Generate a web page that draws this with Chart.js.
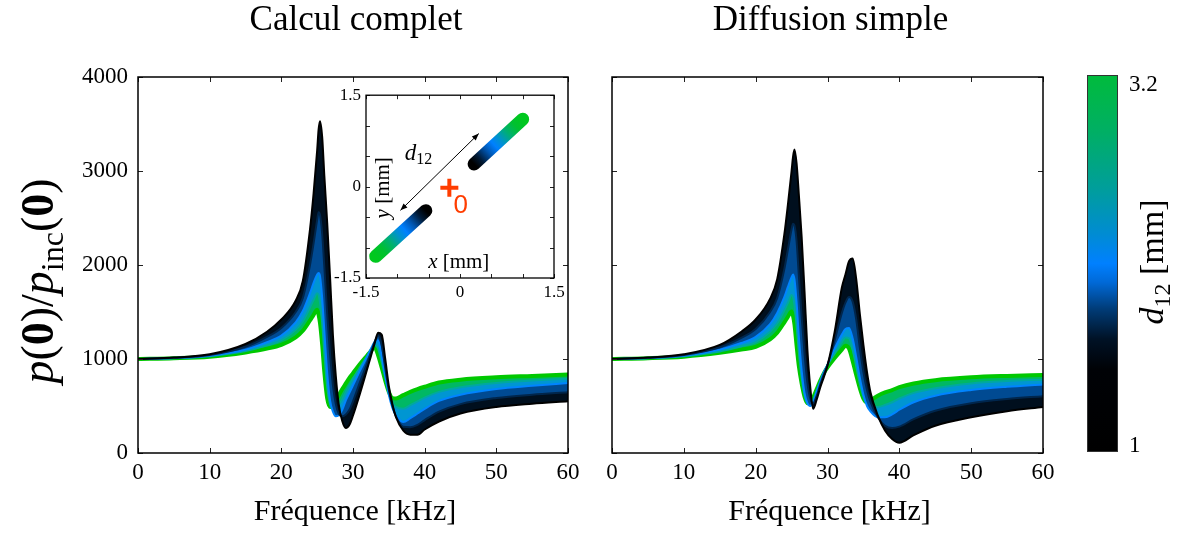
<!DOCTYPE html>
<html>
<head>
<meta charset="utf-8">
<script src="https://cdn.jsdelivr.net/npm/chart.js@4.4.1/dist/chart.umd.min.js"></script>
<style>
  html, body { margin: 0; padding: 0; background: #fff; }
  #wrap { position: relative; width: 1185px; height: 534px; overflow: hidden; background: #fff; }
  canvas { position: absolute; }
</style>
</head>
<body>
<div id="wrap">
  <canvas id="leftChart" width="590" height="534" style="left:0;top:0"></canvas>
  <canvas id="rightChart" width="475" height="534" style="left:590px;top:0"></canvas>
  <canvas id="barChart" width="120" height="534" style="left:1065px;top:0"></canvas>
  <canvas id="insetChart" width="240" height="225" style="left:330px;top:80px"></canvas>
</div>
<script>
/* ------------------- DATA ------------------- */
// frequency grid (kHz), shared by every curve
const freq = [0, 5, 10, 15, 18, 20, 22, 23, 24, 24.5, 25, 25.2, 25.4, 25.7, 26, 26.4, 26.8, 27.2, 27.6, 28,
              28.5, 29, 29.5, 30, 31, 32, 32.5, 33, 33.5, 34, 34.5, 35, 35.5, 36, 37, 38, 39, 40, 42, 45, 50, 55, 60];

// d12 values of the curves that are drawn (mm)
const d12Values = [1, 1.8, 2.1, 2.6, 3.2];

// "Calcul complet" : p(0)/pinc(0)
const completD10 = [1000, 1015, 1050, 1160, 1290, 1420, 1620, 1830, 2380, 2760, 3220, 3440, 3530, 3360, 2950, 2450, 1870, 1250, 820, 520,
                    340, 265, 300, 400, 640, 900, 1030, 1160, 1280, 1260, 1000, 710, 520, 380, 240, 195, 195, 250, 335, 420, 490, 525, 550];
const completD18 = [1000, 1012, 1043, 1130, 1235, 1330, 1500, 1650, 2000, 2230, 2480, 2560, 2530, 2330, 1980, 1480, 1050, 720, 520, 420,
                    390, 410, 460, 550, 760, 960, 1070, 1180, 1250, 1150, 900, 670, 500, 390, 280, 275, 300, 350, 440, 520, 585, 620, 645];
const completD21 = [1000, 1010, 1035, 1100, 1180, 1250, 1390, 1510, 1700, 1810, 1900, 1915, 1880, 1650, 1300, 850, 560, 440, 390, 400,
                    460, 560, 640, 720, 880, 1030, 1110, 1180, 1200, 1030, 820, 620, 480, 400, 330, 370, 420, 470, 555, 620, 680, 715, 745];
const completD26 = [1000, 1009, 1030, 1085, 1145, 1200, 1310, 1400, 1550, 1630, 1700, 1680, 1600, 1380, 1060, 700, 520, 470, 470, 510,
                    570, 650, 720, 790, 915, 1035, 1095, 1150, 1110, 970, 800, 640, 530, 490, 470, 510, 550, 590, 650, 700, 745, 770, 790];
const completD32 = [1000, 1008, 1025, 1070, 1110, 1150, 1230, 1300, 1410, 1470, 1525, 1470, 1380, 1150, 860, 580, 490, 500, 550, 610,
                    680, 740, 800, 850, 950, 1040, 1085, 1125, 1040, 910, 770, 650, 585, 580, 615, 650, 680, 705, 750, 780, 805, 820, 835];

// "Diffusion simple" : p(0)/pinc(0)
const simpleD10 = [1000, 1015, 1050, 1150, 1290, 1420, 1640, 1850, 2330, 2650, 3000, 3150, 3230, 3080, 2760, 2300, 1720, 1100, 700, 470,
                   570, 700, 810, 930, 1290, 1760, 1900, 2040, 2070, 1850, 1480, 1150, 860, 640, 400, 240, 150, 110, 190, 290, 380, 445, 490];
const simpleD18 = [1000, 1012, 1043, 1125, 1225, 1320, 1500, 1650, 1960, 2170, 2380, 2440, 2420, 2250, 1900, 1450, 1060, 750, 580, 530,
                   610, 730, 840, 935, 1200, 1490, 1600, 1660, 1610, 1420, 1120, 860, 670, 540, 380, 290, 265, 280, 360, 450, 530, 575, 605];
const simpleD21 = [1000, 1010, 1035, 1100, 1170, 1235, 1370, 1490, 1660, 1770, 1870, 1900, 1850, 1600, 1250, 880, 640, 530, 500, 540,
                   650, 760, 860, 940, 1110, 1260, 1320, 1330, 1220, 1020, 800, 620, 500, 440, 380, 380, 410, 460, 540, 610, 670, 705, 730];
const simpleD26 = [1000, 1009, 1030, 1080, 1135, 1180, 1290, 1380, 1520, 1600, 1680, 1660, 1580, 1350, 1080, 800, 620, 530, 520, 565,
                   665, 765, 860, 935, 1060, 1180, 1230, 1220, 1100, 920, 740, 600, 520, 500, 490, 510, 540, 580, 640, 690, 740, 765, 780];
const simpleD32 = [1000, 1008, 1025, 1065, 1100, 1130, 1210, 1280, 1390, 1450, 1505, 1460, 1370, 1140, 930, 740, 600, 530, 540, 590,
                   680, 770, 850, 910, 1010, 1100, 1140, 1110, 980, 830, 690, 580, 540, 560, 610, 645, 670, 700, 740, 775, 805, 820, 830];

// inset: positions of the two scatterers (mm) from d12 = 1 (inner end) to d12 = 3.2 (outer end)
const rodUpper = [{ x: 0.225, y: 0.37 }, { x: 1.0, y: 1.105 }];
const rodLower = [{ x: -0.545, y: -0.395 }, { x: -1.345, y: -1.145 }];
const arrowD12 = [{ x: -0.95, y: -0.39 }, { x: 0.30, y: 0.87 }];
const pointZero = [{ x: -0.17, y: -0.02 }];

// colorbar range (mm)
const cbarRange = [1, 3.2];

/* ------------------- STYLES ------------------- */
const SERIF = '"Liberation Serif", "Times New Roman", serif';
const curveColors = ['#000000', '#00264c', '#0084ff', '#00a8a0', '#00c800'];
const bandColors = ['#000f1e', '#004a92', '#0096d2', '#00b864'];
const cmapStops = [
  [0.00, '#000000'], [0.22, '#000206'], [0.30, '#001226'], [0.38, '#003c78'],
  [0.45, '#0069d7'], [0.50, '#0080ff'], [0.58, '#008cd2'], [0.70, '#009e9b'],
  [0.85, '#00af64'], [1.00, '#00bb3c']
];
// colour along one scatterer (inner end -> outer end)
const rodStops = [
  [0.00, '#000000'], [0.12, '#001a36'], [0.28, '#0055b0'], [0.42, '#0080ff'],
  [0.55, '#0094c8'], [0.70, '#00b070'], [0.85, '#00c030'], [1.00, '#00c81e']
];

/* ------------------- HELPERS ------------------- */
function drawRich(ctx, parts, x, y, angle, align) {
  ctx.save();
  ctx.translate(x, y);
  ctx.rotate(angle);
  ctx.textBaseline = 'alphabetic';
  ctx.textAlign = 'left';
  let total = 0;
  parts.forEach(p => { ctx.font = p.f; p.w = ctx.measureText(p.t).width; total += p.w; });
  let cx = align === 'center' ? -total / 2 : 0;
  parts.forEach(p => { ctx.font = p.f; ctx.fillText(p.t, cx, p.dy || 0); cx += p.w; });
  ctx.restore();
  return total;
}

function yLabelParts(S) {
  return [
    { t: 'p', f: `italic ${S}px ${SERIF}` },
    { t: '(', f: `${S}px ${SERIF}` },
    { t: '0', f: `bold ${S}px ${SERIF}` },
    { t: ')', f: `${S}px ${SERIF}` },
    { t: '/', f: `${S}px ${SERIF}` },
    { t: 'p', f: `italic ${S}px ${SERIF}` },
    { t: 'inc', f: `${Math.round(S * 0.7)}px ${SERIF}`, dy: S * 0.22 },
    { t: '(', f: `${S}px ${SERIF}` },
    { t: '0', f: `bold ${S}px ${SERIF}` },
    { t: ')', f: `${S}px ${SERIF}` }
  ];
}

function buildDatasets(series) {
  return series.map((vals, i) => ({
    label: 'd12 = ' + d12Values[i],
    data: freq.map((f, k) => ({ x: f, y: vals[k] })),
    borderColor: curveColors[i],
    borderWidth: i === series.length - 1 ? 4 : 2,
    backgroundColor: i === 0 ? 'transparent' : bandColors[i - 1],
    fill: i === 0 ? false : '-1',
    pointRadius: 0,
    cubicInterpolationMode: 'monotone'
  }));
}

// box + inward ticks on all four sides
const framePlugin = {
  id: 'frame',
  afterDatasetsDraw(chart, args, opts) {
    const { ctx, chartArea: a, scales: { x, y } } = chart;
    const L = opts.tick || 5;
    ctx.save();
    ctx.strokeStyle = '#222';
    ctx.lineWidth = 1;
    ctx.beginPath();
    x.ticks.forEach(t => {
      const px = Math.round(x.getPixelForValue(t.value)) + 0.5;
      ctx.moveTo(px, a.bottom); ctx.lineTo(px, a.bottom - L);
      ctx.moveTo(px, a.top); ctx.lineTo(px, a.top + L);
    });
    y.ticks.forEach(t => {
      const py = Math.round(y.getPixelForValue(t.value)) + 0.5;
      ctx.moveTo(a.left, py); ctx.lineTo(a.left + L, py);
      ctx.moveTo(a.right, py); ctx.lineTo(a.right - L, py);
    });
    ctx.stroke();
    ctx.strokeStyle = '#000';
    ctx.lineWidth = opts.lineWidth || 1.5;
    ctx.strokeRect(a.left, a.top, a.width, a.height);
    ctx.restore();
  }
};

// panel title, x label and (optionally) y label
const textPlugin = {
  id: 'texts',
  afterDraw(chart, args, opts) {
    const { ctx, chartArea: a } = chart;
    const cx = (a.left + a.right) / 2;
    ctx.save();
    ctx.fillStyle = '#000';
    ctx.textAlign = 'center';
    ctx.textBaseline = 'alphabetic';
    ctx.font = '35px ' + SERIF;
    ctx.fillText(opts.title, cx + 3, 30);
    ctx.font = '30px ' + SERIF;
    ctx.fillText('Fréquence [kHz]', cx + 2, 520);
    if (opts.yLabel) {
      // size the label so that it spans about 250 px, like the reference
      ctx.save();
      let w = 0;
      yLabelParts(40).forEach(p => { ctx.font = p.f; w += ctx.measureText(p.t).width; });
      ctx.restore();
      const S = Math.min(46, 40 * 248 / w);
      drawRich(ctx, yLabelParts(S), 53, 281, -Math.PI / 2, 'center');
    }
    ctx.restore();
  }
};

function mainOptions(showY, title, padRight) {
  return {
    responsive: false,
    animation: false,
    devicePixelRatio: 1,
    layout: { padding: { top: 77, right: padRight, left: 0, bottom: 0 } },
    plugins: {
      legend: { display: false },
      tooltip: { enabled: false },
      frame: { tick: 5, lineWidth: 1.5 },
      texts: { title: title, yLabel: showY }
    },
    scales: {
      x: {
        type: 'linear', min: 0, max: 60,
        grid: { display: false, drawTicks: false },
        border: { display: false },
        ticks: { stepSize: 10, color: '#000', padding: 6, font: { family: 'Liberation Serif', size: 23 },
                 callback: v => String(v) },
        afterFit: s => { s.height = 81; }
      },
      y: {
        type: 'linear', min: 0, max: 4000,
        grid: { display: false, drawTicks: false },
        border: { display: false },
        ticks: { stepSize: 1000, display: showY, color: '#000', padding: 10, font: { family: 'Liberation Serif', size: 23 },
                 callback: v => String(v) },
        afterFit: s => { s.width = showY ? 138 : 22; }
      }
    }
  };
}

/* ------------------- MAIN PANELS ------------------- */
new Chart(document.getElementById('leftChart'), {
  type: 'line',
  data: { datasets: buildDatasets([completD10, completD18, completD21, completD26, completD32]) },
  options: mainOptions(true, 'Calcul complet', 22),
  plugins: [framePlugin, textPlugin]
});

new Chart(document.getElementById('rightChart'), {
  type: 'line',
  data: { datasets: buildDatasets([simpleD10, simpleD18, simpleD21, simpleD26, simpleD32]) },
  options: mainOptions(false, 'Diffusion simple', 22),
  plugins: [framePlugin, textPlugin]
});

/* ------------------- INSET ------------------- */
function rodGradient(context) {
  const chart = context.chart;
  if (!chart.chartArea) return '#000';
  const pts = chart.data.datasets[context.datasetIndex].data;
  const xs = chart.scales.x, ys = chart.scales.y;
  const g = chart.ctx.createLinearGradient(
    xs.getPixelForValue(pts[0].x), ys.getPixelForValue(pts[0].y),
    xs.getPixelForValue(pts[1].x), ys.getPixelForValue(pts[1].y));
  rodStops.forEach(s => g.addColorStop(s[0], s[1]));
  return g;
}

function arrowHead(ctx, tip, from) {
  const ang = Math.atan2(tip.y - from.y, tip.x - from.x);
  const len = 7, hw = 2.8;
  ctx.beginPath();
  ctx.moveTo(tip.x, tip.y);
  ctx.lineTo(tip.x - len * Math.cos(ang) + hw * Math.sin(ang), tip.y - len * Math.sin(ang) - hw * Math.cos(ang));
  ctx.lineTo(tip.x - len * Math.cos(ang) - hw * Math.sin(ang), tip.y - len * Math.sin(ang) + hw * Math.cos(ang));
  ctx.closePath();
  ctx.fill();
}

const insetPlugin = {
  id: 'insetDecor',
  beforeDatasetsDraw(chart) {
    const { ctx, chartArea: a } = chart;
    ctx.save();
    ctx.fillStyle = '#fff';
    ctx.fillRect(a.left, a.top, a.width, a.height);
    ctx.restore();
  },
  afterDatasetsDraw(chart) {
    const { ctx, scales: { x, y } } = chart;
    const px = v => x.getPixelForValue(v), py = v => y.getPixelForValue(v);
    ctx.save();
    ctx.fillStyle = '#000';
    const p0 = { x: px(arrowD12[0].x), y: py(arrowD12[0].y) };
    const p1 = { x: px(arrowD12[1].x), y: py(arrowD12[1].y) };
    arrowHead(ctx, p0, p1);
    arrowHead(ctx, p1, p0);
    drawRich(ctx, [
      { t: 'd', f: `italic 23px ${SERIF}` },
      { t: '12', f: `16px ${SERIF}`, dy: 4 }
    ], px(-0.88), py(0.44), 0, 'left');
    drawRich(ctx, [
      { t: 'x', f: `italic 21px ${SERIF}` },
      { t: ' [mm]', f: `21px ${SERIF}` }
    ], px(-0.02), py(-1.34), 0, 'center');
    drawRich(ctx, [
      { t: 'y', f: `italic 21px ${SERIF}` },
      { t: ' [mm]', f: `21px ${SERIF}` }
    ], px(-1.13), py(-0.02), -Math.PI / 2, 'center');
    ctx.fillStyle = '#ff3d00';
    ctx.font = '26px "Liberation Sans", Arial, sans-serif';
    ctx.textAlign = 'center';
    ctx.textBaseline = 'alphabetic';
    ctx.fillText('0', px(0.01), py(-0.44));
    ctx.restore();
  }
};

new Chart(document.getElementById('insetChart'), {
  type: 'line',
  data: {
    datasets: [
      { data: rodUpper, borderColor: rodGradient, borderWidth: 13, borderCapStyle: 'round', pointRadius: 0 },
      { data: rodLower, borderColor: rodGradient, borderWidth: 13, borderCapStyle: 'round', pointRadius: 0 },
      { data: arrowD12, borderColor: '#000', borderWidth: 1, pointRadius: 0 },
      { data: pointZero, showLine: false, pointStyle: 'cross', pointRadius: 9, borderWidth: 4,
        pointBorderColor: '#ff3d00', borderColor: '#ff3d00' }
    ]
  },
  options: {
    responsive: false,
    animation: false,
    devicePixelRatio: 1,
    layout: { padding: { top: 11, right: 16, left: 0, bottom: 0 } },
    plugins: {
      legend: { display: false },
      tooltip: { enabled: false },
      frame: { tick: 4, lineWidth: 1.3 }
    },
    scales: {
      x: {
        type: 'linear', min: -1.5, max: 1.5,
        grid: { display: false, drawTicks: false },
        border: { display: false },
        ticks: {
          stepSize: 0.5, color: '#000', padding: 4, maxRotation: 0,
          font: { family: 'Liberation Serif', size: 17 },
          callback: v => (v === -1.5 || v === 0 || v === 1.5) ? String(v) : ''
        },
        afterFit: s => { s.height = 27; }
      },
      y: {
        type: 'linear', min: -1.5, max: 1.5,
        grid: { display: false, drawTicks: false },
        border: { display: false },
        ticks: {
          stepSize: 0.5, color: '#000', padding: 5,
          font: { family: 'Liberation Serif', size: 17 },
          callback: v => (v === -1.5 || v === 0 || v === 1.5) ? String(v) : ''
        },
        afterFit: s => { s.width = 36; }
      }
    }
  },
  plugins: [insetPlugin, framePlugin]
});

/* ------------------- COLORBAR ------------------- */
const cbarPlugin = {
  id: 'cbar',
  afterDraw(chart) {
    const { ctx, chartArea: a, scales: { y } } = chart;
    const top = y.getPixelForValue(cbarRange[1]);
    const bot = y.getPixelForValue(cbarRange[0]);
    ctx.save();
    const g = ctx.createLinearGradient(0, bot, 0, top);
    cmapStops.forEach(s => g.addColorStop(s[0], s[1]));
    ctx.fillStyle = g;
    ctx.fillRect(a.left, top, a.width, bot - top);
    ctx.strokeStyle = '#333';
    ctx.lineWidth = 1;
    ctx.strokeRect(a.left + 0.5, top + 0.5, a.width - 1, bot - top - 1);
    ctx.fillStyle = '#000';
    ctx.font = '23px ' + SERIF;
    ctx.textAlign = 'left';
    ctx.textBaseline = 'alphabetic';
    ctx.fillText(String(cbarRange[1]), a.right + 11, top + 16);
    ctx.fillText(String(cbarRange[0]), a.right + 11, bot);
    drawRich(ctx, [
      { t: 'd', f: `italic 34px ${SERIF}` },
      { t: '12', f: `24px ${SERIF}`, dy: 7 },
      { t: ' [mm]', f: `34px ${SERIF}` }
    ], a.right + 45, 262, -Math.PI / 2, 'center');
    ctx.restore();
  }
};

new Chart(document.getElementById('barChart'), {
  type: 'scatter',
  data: { datasets: [] },
  options: {
    responsive: false,
    animation: false,
    devicePixelRatio: 1,
    layout: { padding: { left: 22, right: 67, top: 75, bottom: 82 } },
    plugins: { legend: { display: false }, tooltip: { enabled: false } },
    scales: {
      x: { display: false, min: 0, max: 1 },
      y: { display: false, min: cbarRange[0], max: cbarRange[1] }
    }
  },
  plugins: [cbarPlugin]
});
</script>
</body>
</html>
